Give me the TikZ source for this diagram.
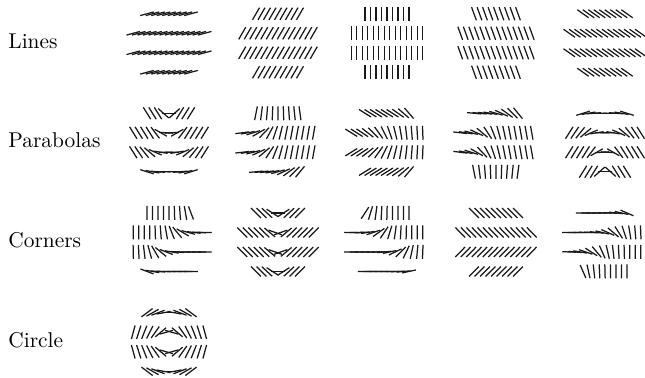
\documentclass[tikz,border=0pt]{standalone}
\begin{document}
\begin{tikzpicture}[x=0.5pt,y=0.5pt]
\tikzset{
  seg/.style={line width=0.62pt, black!90, line cap=butt},
  lab/.style={anchor=base west, inner sep=0pt, font=\fontsize{10.7}{13}\selectfont},
  declare function={
    sg(\qa)=1/(1+exp(-max(min(\qa,9),-9)));
    tnh(\qa)=2*sg(2*\qa)-1;
    pw(\qc)=11*pow(1.9,(9.75-\qc)/19.5);
    lineA(\qa,\qb)=15+0*\qa;
    lineB(\qa,\qb)=60+0*\qa;
    lineC(\qa,\qb)=90+0*\qa;
    lineD(\qa,\qb)=110+0*\qa;
    lineE(\qa,\qb)=145+0*\qa;
    parA(\qa,\qb)=58*tnh((\qa/pw(\qb))*abs(\qa/pw(\qb)));
    parE(\qa,\qb)=-parA(\qa,-\qb);
    parC(\qa,\qb)=90+parA(\qb,-\qa);
    parB(\qa,\qb)=5+((\qb>20)?(85+0.35*\qa):((\qb>-20)?(75):(50)))*sg((\qa-((\qb>20)?(-40):((\qb>0)?(-15):((\qb>-20)?(-13):(8)))))/6);
    parD(\qa,\qb)=-parB(\qa,-\qb);
    corA(\qa,\qb)=90+90*sg((\qa-\qb)/6);
    corB(\qa,\qb)=45*(2*sg(\qa/3)-1);
    corC(\qa,\qb)=90*sg((\qa+\qb-4)/6);
    corD(\qa,\qb)=90+45*(2*sg(\qb/2)-1);
    corE(\qa,\qb)=180-90*sg((\qa-\qb)/7);
    circA(\qa,\qb)=atan2(\qb,\qa)+90;
  }
}
\newcommand\fieldpatch[3]{%
  \foreach \ry/\cols in {29.25/{-4,-3,...,4}, 9.75/{-6.5,-5.5,...,6.5}, -9.75/{-6.5,-5.5,...,6.5}, -29.25/{-4,-3,...,4}} {
    \foreach \ci in \cols {
      \pgfmathsetmacro\rx{\ci*5.5}
      \pgfmathsetmacro\th{#3(\rx,\ry)}
      \pgfmathsetmacro\dx{7*cos(\th)}
      \pgfmathsetmacro\dy{7*sin(\th)}
      \pgfmathsetmacro\xa{#1+\rx-\dx}
      \pgfmathsetmacro\xb{#1+\rx+\dx}
      \pgfmathsetmacro\ya{-#2+\ry-\dy}
      \pgfmathsetmacro\yb{-#2+\ry+\dy}
      \draw[seg] (\xa,\ya) -- (\xb,\yb);
    }
  }
}
\useasboundingbox (0,0) rectangle (645,-377);
\node[lab] (lLines) at (8,-48.5) {Lines};
\node[lab] (lPar) at (8,-147.5) {Parabolas};
\node[lab] (lCor) at (8,-247) {Corners};
\node[lab] (lCirc) at (8,-347.5) {Circle};
\fieldpatch{169}{43}{lineA}
\fieldpatch{278}{43}{lineB}
\fieldpatch{387}{43}{lineC}
\fieldpatch{496}{43}{lineD}
\fieldpatch{605}{43}{lineE}
\fieldpatch{169}{142.5}{parA}
\fieldpatch{278}{142.5}{parB}
\fieldpatch{387}{142.5}{parC}
\fieldpatch{496}{142.5}{parD}
\fieldpatch{605}{142.5}{parE}
\fieldpatch{169}{242.2}{corA}
\fieldpatch{278}{242.2}{corB}
\fieldpatch{387}{242.2}{corC}
\fieldpatch{496}{242.2}{corD}
\fieldpatch{605}{242.2}{corE}
\fieldpatch{169}{342}{circA}
\end{tikzpicture}
\end{document}
